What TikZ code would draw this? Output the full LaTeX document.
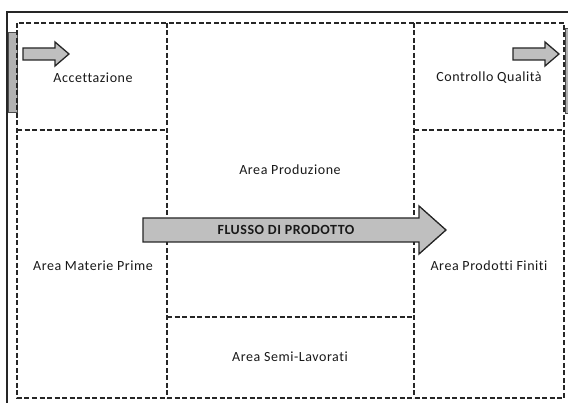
\documentclass[tikz,border=0pt]{standalone}
\usepackage{fontspec}
\setmainfont{Carlito}[LetterSpace=4, Ligatures={NoCommon}]
\begin{document}
\begin{tikzpicture}[x=1pt,y=-1pt,
  area/.style={draw=black!85, line width=1.4pt, dash pattern=on 5pt off 2.5pt},
  label/.style={font=\fontsize{14}{16}\selectfont, text=black!90, inner sep=0pt},
  flowarrow/.style={draw=black!85, line width=1.3pt, fill=black!25, line join=miter},
  sidebar/.style={draw=black!70, line width=0.8pt, fill=black!30}]
\useasboundingbox (0,0) rectangle (568,403);
\fill[white] (0,0) rectangle (568,403);
\begin{scope}
\clip (0,0) rectangle (568,403);
% outer frame
\draw[black!85, line width=1.1pt] (7,420) -- (7,12) -- (580,12);
% side bars
\draw[sidebar] (8,32) rectangle (17,112);
\draw[sidebar] (565,28) rectangle (575,113);
\end{scope}
% plant areas
\draw[area] (17,23) rectangle (564,398);
\draw[area] (167,23) -- (167,398);
\draw[area] (414,23) -- (414,398);
\draw[area] (17,130) -- (167,130);
\draw[area] (414,130) -- (564,130);
\draw[area] (167,317) -- (414,317);
% entry and exit arrows
\draw[flowarrow] (23,48) -- (55,48) -- (55,42) -- (69,54) -- (55,66) -- (55,60) -- (23,60) -- cycle;
\draw[flowarrow] (513,48) -- (545,48) -- (545,42) -- (559,54) -- (545,66) -- (545,60) -- (513,60) -- cycle;
% product flow arrow
\draw[flowarrow] (143,218) -- (419,218) -- (419,206) -- (446,230) -- (419,254) -- (419,242) -- (143,242) -- cycle;
\node[label, font=\bfseries\fontsize{14}{16}\selectfont] (flusso) at (286,230) {FLUSSO DI PRODOTTO};
% area labels
\node[label] (acc) at (93,78) {Accettazione};
\node[label] (cq) at (489,78) {Controllo Qualità};
\node[label] (prod) at (290,170) {Area Produzione};
\node[label] (mp) at (93,266) {Area Materie Prime};
\node[label] (pf) at (489,266) {Area Prodotti Finiti};
\node[label] (sl) at (290,357) {Area Semi-Lavorati};
\end{tikzpicture}
\end{document}
